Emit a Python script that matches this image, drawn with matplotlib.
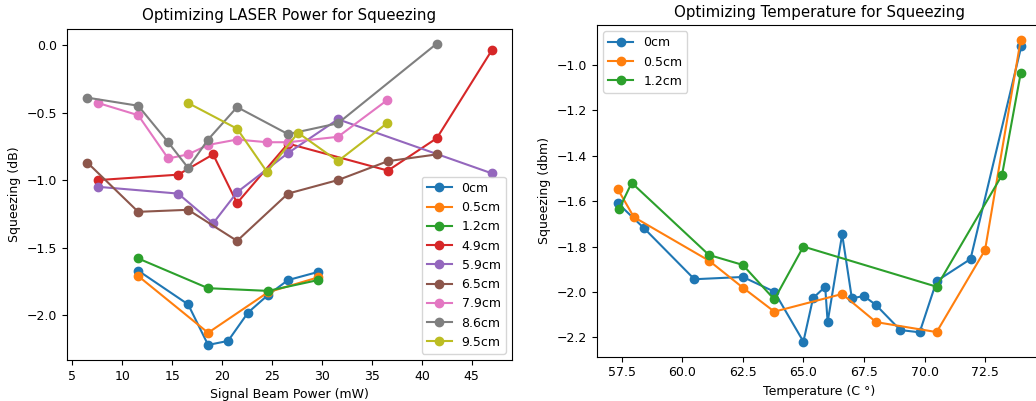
import numpy as np
import matplotlib
matplotlib.use('Agg')
from matplotlib import pyplot as plt

plt.rcParams['font.size'] = 9

# ---- left panel: squeezing vs signal beam power ----
power_0cm = [11.6, 16.6, 18.6, 20.6, 22.6, 24.6, 26.6, 29.6]
sq_0cm = [-1.67, -1.92, -2.22, -2.19, -1.98, -1.85, -1.74, -1.68]

power_05cm = [11.6, 18.6, 24.6, 29.6]
sq_05cm = [-1.71, -2.13, -1.83, -1.72]

power_12cm = [11.6, 18.6, 24.6, 29.6]
sq_12cm = [-1.58, -1.80, -1.82, -1.74]

power_49cm = [7.6, 15.6, 19.1, 21.5, 26.6, 36.6, 41.5, 47.0]
sq_49cm = [-1.00, -0.96, -0.81, -1.17, -0.73, -0.93, -0.69, -0.04]

power_59cm = [7.6, 15.6, 19.1, 21.5, 26.6, 31.6, 47.0]
sq_59cm = [-1.05, -1.10, -1.32, -1.09, -0.80, -0.55, -0.95]

power_65cm = [6.5, 11.6, 16.6, 21.5, 26.6, 31.6, 36.6, 41.5]
sq_65cm = [-0.87, -1.235, -1.22, -1.45, -1.10, -1.00, -0.86, -0.81]

power_79cm = [7.6, 11.6, 14.6, 16.6, 18.6, 21.5, 24.5, 26.6, 31.6, 36.5]
sq_79cm = [-0.43, -0.52, -0.84, -0.81, -0.74, -0.70, -0.72, -0.72, -0.68, -0.41]

power_86cm = [6.5, 11.6, 14.6, 16.6, 18.6, 21.5, 26.6, 31.6, 41.5]
sq_86cm = [-0.39, -0.45, -0.72, -0.91, -0.70, -0.46, -0.66, -0.58, 0.01]

power_95cm = [16.6, 21.5, 24.5, 27.6, 31.6, 36.5]
sq_95cm = [-0.43, -0.62, -0.94, -0.65, -0.86, -0.58]

left_labels = ['0cm', '0.5cm', '1.2cm', '4.9cm', '5.9cm', '6.5cm', '7.9cm', '8.6cm', '9.5cm']
left_x = [power_0cm, power_05cm, power_12cm, power_49cm, power_59cm,
          power_65cm, power_79cm, power_86cm, power_95cm]
left_y = [sq_0cm, sq_05cm, sq_12cm, sq_49cm, sq_59cm,
          sq_65cm, sq_79cm, sq_86cm, sq_95cm]

# ---- right panel: squeezing vs temperature ----
temp_0cm = [57.35, 58.4, 60.5, 62.5, 63.8, 65.0, 65.4, 65.9, 66.0, 66.6,
            67.0, 67.5, 68.0, 69.0, 69.8, 70.5, 71.9, 74.0]
tsq_0cm = [-1.61, -1.717, -1.944, -1.934, -1.999, -2.219, -2.027, -1.977, -2.133, -1.746,
           -2.028, -2.018, -2.058, -2.168, -2.178, -1.952, -1.855, -0.915]

temp_05cm = [57.33, 58.0, 61.1, 62.5, 63.8, 66.6, 68.0, 70.5, 72.5, 73.97]
tsq_05cm = [-1.546, -1.67, -1.862, -1.981, -2.087, -2.009, -2.133, -2.177, -1.815, -0.89]

temp_12cm = [57.39, 57.91, 61.1, 62.5, 63.8, 65.0, 70.5, 73.2, 73.97]
tsq_12cm = [-1.635, -1.519, -1.837, -1.881, -2.033, -1.80, -1.977, -1.485, -1.037]

right_labels = ['0cm', '0.5cm', '1.2cm']
right_x = [temp_0cm, temp_05cm, temp_12cm]
right_y = [tsq_0cm, tsq_05cm, tsq_12cm]

fig = plt.figure(figsize=(10.36, 4.01), dpi=100)
ax1 = fig.add_axes([0.0647, 0.1022, 0.4295, 0.8267])
ax2 = fig.add_axes([0.5763, 0.1105, 0.4290, 0.8270])

for xs, ys, lab in zip(left_x, left_y, left_labels):
    ax1.plot(xs, ys, marker='o', label=lab)
ax1.set_title('Optimizing LASER Power for Squeezing')
ax1.set_xlabel('Signal Beam Power (mW)')
ax1.set_ylabel('Squeezing (dB)')
ax1.set_xticks([5, 10, 15, 20, 25, 30, 35, 40, 45])
ax1.set_yticks([0.0, -0.5, -1.0, -1.5, -2.0])
ax1.legend(loc='lower right')

for xs, ys, lab in zip(right_x, right_y, right_labels):
    ax2.plot(xs, ys, marker='o', label=lab)
ax2.set_title('Optimizing Temperature for Squeezing')
ax2.set_xlabel('Temperature (C °)')
ax2.set_ylabel('Squeezing (dbm)')
ax2.set_xlim(56.48, 74.83)
ax2.legend(loc='upper left')

fig.savefig('out.png', dpi=100)
